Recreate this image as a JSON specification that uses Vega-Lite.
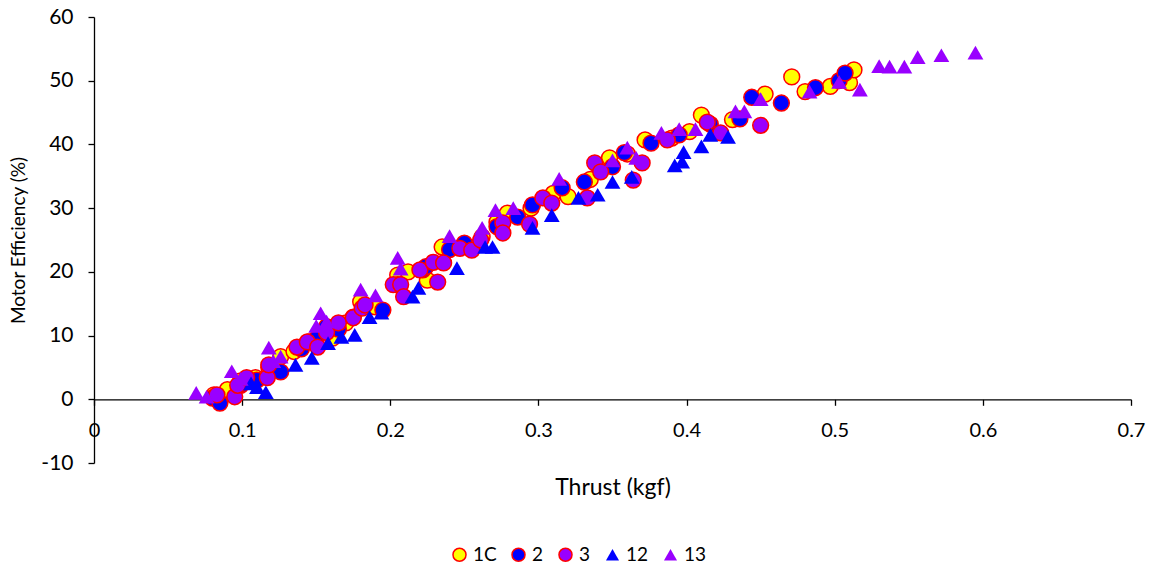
{
  "$schema": "https://vega.github.io/schema/vega-lite/v6.json",
  "autosize": {"type": "none"},
  "padding": {"left": 94, "top": 17, "right": 22, "bottom": 106},
  "width": 1037,
  "height": 446,
  "background": "white",
  "config": {
    "view": {"stroke": null},
    "font": "Lato",
    "axis": {"grid": false, "domainColor": "#000000", "tickColor": "#000000", "labelColor": "#000000", "titleColor": "#000000", "domainWidth": 1.3, "tickWidth": 1.3, "tickSize": 6, "labelFont": "Lato", "titleFont": "Lato", "titleFontWeight": "normal", "labelFlush": false}
  },
  "data": {"values": [
    {"series":"1C","thrust":0.081,"efficiency":0.7},
    {"series":"1C","thrust":0.090,"efficiency":1.5},
    {"series":"1C","thrust":0.099,"efficiency":2.9},
    {"series":"1C","thrust":0.109,"efficiency":3.4},
    {"series":"1C","thrust":0.118,"efficiency":5.0},
    {"series":"1C","thrust":0.126,"efficiency":6.7},
    {"series":"1C","thrust":0.135,"efficiency":7.5},
    {"series":"1C","thrust":0.145,"efficiency":9.0},
    {"series":"1C","thrust":0.161,"efficiency":9.6},
    {"series":"1C","thrust":0.170,"efficiency":12.0},
    {"series":"1C","thrust":0.180,"efficiency":15.3},
    {"series":"1C","thrust":0.190,"efficiency":14.5},
    {"series":"1C","thrust":0.205,"efficiency":19.5},
    {"series":"1C","thrust":0.212,"efficiency":20.0},
    {"series":"1C","thrust":0.225,"efficiency":18.7},
    {"series":"1C","thrust":0.235,"efficiency":23.9},
    {"series":"1C","thrust":0.250,"efficiency":24.0},
    {"series":"1C","thrust":0.262,"efficiency":25.5},
    {"series":"1C","thrust":0.272,"efficiency":27.8},
    {"series":"1C","thrust":0.279,"efficiency":29.2},
    {"series":"1C","thrust":0.295,"efficiency":30.0},
    {"series":"1C","thrust":0.310,"efficiency":32.3},
    {"series":"1C","thrust":0.320,"efficiency":31.8},
    {"series":"1C","thrust":0.335,"efficiency":34.5},
    {"series":"1C","thrust":0.348,"efficiency":37.9},
    {"series":"1C","thrust":0.360,"efficiency":38.5},
    {"series":"1C","thrust":0.372,"efficiency":40.7},
    {"series":"1C","thrust":0.390,"efficiency":41.0},
    {"series":"1C","thrust":0.402,"efficiency":42.0},
    {"series":"1C","thrust":0.410,"efficiency":44.6},
    {"series":"1C","thrust":0.431,"efficiency":43.9},
    {"series":"1C","thrust":0.453,"efficiency":47.9},
    {"series":"1C","thrust":0.471,"efficiency":50.6},
    {"series":"1C","thrust":0.480,"efficiency":48.3},
    {"series":"1C","thrust":0.497,"efficiency":49.1},
    {"series":"1C","thrust":0.510,"efficiency":49.7},
    {"series":"1C","thrust":0.513,"efficiency":51.7},
    {"series":"2","thrust":0.080,"efficiency":0.2},
    {"series":"2","thrust":0.085,"efficiency":-0.6},
    {"series":"2","thrust":0.099,"efficiency":2.2},
    {"series":"2","thrust":0.110,"efficiency":3.0},
    {"series":"2","thrust":0.126,"efficiency":4.3},
    {"series":"2","thrust":0.140,"efficiency":7.9},
    {"series":"2","thrust":0.150,"efficiency":9.5},
    {"series":"2","thrust":0.157,"efficiency":11.4},
    {"series":"2","thrust":0.165,"efficiency":11.0},
    {"series":"2","thrust":0.175,"efficiency":12.9},
    {"series":"2","thrust":0.195,"efficiency":14.0},
    {"series":"2","thrust":0.205,"efficiency":18.0},
    {"series":"2","thrust":0.222,"efficiency":20.3},
    {"series":"2","thrust":0.224,"efficiency":20.8},
    {"series":"2","thrust":0.240,"efficiency":23.5},
    {"series":"2","thrust":0.250,"efficiency":24.5},
    {"series":"2","thrust":0.272,"efficiency":27.1},
    {"series":"2","thrust":0.286,"efficiency":28.6},
    {"series":"2","thrust":0.296,"efficiency":30.5},
    {"series":"2","thrust":0.316,"efficiency":33.2},
    {"series":"2","thrust":0.331,"efficiency":34.1},
    {"series":"2","thrust":0.350,"efficiency":36.5},
    {"series":"2","thrust":0.358,"efficiency":38.7},
    {"series":"2","thrust":0.376,"efficiency":40.2},
    {"series":"2","thrust":0.395,"efficiency":41.5},
    {"series":"2","thrust":0.416,"efficiency":43.2},
    {"series":"2","thrust":0.436,"efficiency":44.0},
    {"series":"2","thrust":0.444,"efficiency":47.4},
    {"series":"2","thrust":0.464,"efficiency":46.5},
    {"series":"2","thrust":0.487,"efficiency":48.9},
    {"series":"2","thrust":0.503,"efficiency":50.0},
    {"series":"2","thrust":0.507,"efficiency":51.2},
    {"series":"3","thrust":0.083,"efficiency":0.7},
    {"series":"3","thrust":0.095,"efficiency":0.4},
    {"series":"3","thrust":0.097,"efficiency":2.2},
    {"series":"3","thrust":0.103,"efficiency":3.4},
    {"series":"3","thrust":0.117,"efficiency":3.4},
    {"series":"3","thrust":0.118,"efficiency":5.4},
    {"series":"3","thrust":0.137,"efficiency":8.2},
    {"series":"3","thrust":0.144,"efficiency":9.0},
    {"series":"3","thrust":0.151,"efficiency":8.2},
    {"series":"3","thrust":0.157,"efficiency":10.5},
    {"series":"3","thrust":0.165,"efficiency":12.0},
    {"series":"3","thrust":0.175,"efficiency":12.8},
    {"series":"3","thrust":0.181,"efficiency":14.3},
    {"series":"3","thrust":0.183,"efficiency":14.8},
    {"series":"3","thrust":0.202,"efficiency":18.0},
    {"series":"3","thrust":0.207,"efficiency":18.0},
    {"series":"3","thrust":0.209,"efficiency":16.1},
    {"series":"3","thrust":0.220,"efficiency":20.3},
    {"series":"3","thrust":0.229,"efficiency":21.5},
    {"series":"3","thrust":0.232,"efficiency":18.4},
    {"series":"3","thrust":0.236,"efficiency":21.4},
    {"series":"3","thrust":0.247,"efficiency":23.7},
    {"series":"3","thrust":0.255,"efficiency":23.4},
    {"series":"3","thrust":0.261,"efficiency":25.0},
    {"series":"3","thrust":0.276,"efficiency":27.7},
    {"series":"3","thrust":0.276,"efficiency":26.1},
    {"series":"3","thrust":0.294,"efficiency":27.5},
    {"series":"3","thrust":0.303,"efficiency":31.6},
    {"series":"3","thrust":0.309,"efficiency":30.8},
    {"series":"3","thrust":0.333,"efficiency":31.6},
    {"series":"3","thrust":0.338,"efficiency":37.1},
    {"series":"3","thrust":0.342,"efficiency":35.7},
    {"series":"3","thrust":0.364,"efficiency":34.4},
    {"series":"3","thrust":0.370,"efficiency":37.1},
    {"series":"3","thrust":0.387,"efficiency":40.7},
    {"series":"3","thrust":0.414,"efficiency":43.5},
    {"series":"3","thrust":0.423,"efficiency":41.8},
    {"series":"3","thrust":0.450,"efficiency":43.0},
    {"series":"12","thrust":0.106,"efficiency":2.5},
    {"series":"12","thrust":0.110,"efficiency":1.9},
    {"series":"12","thrust":0.116,"efficiency":1.1},
    {"series":"12","thrust":0.136,"efficiency":5.4},
    {"series":"12","thrust":0.147,"efficiency":6.5},
    {"series":"12","thrust":0.158,"efficiency":8.8},
    {"series":"12","thrust":0.167,"efficiency":9.8},
    {"series":"12","thrust":0.176,"efficiency":10.1},
    {"series":"12","thrust":0.186,"efficiency":12.9},
    {"series":"12","thrust":0.194,"efficiency":13.6},
    {"series":"12","thrust":0.215,"efficiency":16.1},
    {"series":"12","thrust":0.219,"efficiency":17.5},
    {"series":"12","thrust":0.245,"efficiency":20.6},
    {"series":"12","thrust":0.264,"efficiency":23.9},
    {"series":"12","thrust":0.269,"efficiency":23.9},
    {"series":"12","thrust":0.296,"efficiency":26.9},
    {"series":"12","thrust":0.309,"efficiency":28.9},
    {"series":"12","thrust":0.327,"efficiency":31.6},
    {"series":"12","thrust":0.340,"efficiency":32.1},
    {"series":"12","thrust":0.350,"efficiency":34.1},
    {"series":"12","thrust":0.363,"efficiency":34.9},
    {"series":"12","thrust":0.392,"efficiency":36.7},
    {"series":"12","thrust":0.397,"efficiency":37.3},
    {"series":"12","thrust":0.398,"efficiency":38.8},
    {"series":"12","thrust":0.410,"efficiency":39.7},
    {"series":"12","thrust":0.416,"efficiency":41.5},
    {"series":"12","thrust":0.428,"efficiency":41.2},
    {"series":"13","thrust":0.069,"efficiency":1.0},
    {"series":"13","thrust":0.076,"efficiency":0.4},
    {"series":"13","thrust":0.093,"efficiency":4.4},
    {"series":"13","thrust":0.099,"efficiency":3.2},
    {"series":"13","thrust":0.118,"efficiency":8.1},
    {"series":"13","thrust":0.121,"efficiency":6.0},
    {"series":"13","thrust":0.126,"efficiency":6.7},
    {"series":"13","thrust":0.150,"efficiency":11.5},
    {"series":"13","thrust":0.153,"efficiency":13.5},
    {"series":"13","thrust":0.157,"efficiency":12.2},
    {"series":"13","thrust":0.180,"efficiency":17.2},
    {"series":"13","thrust":0.190,"efficiency":16.3},
    {"series":"13","thrust":0.205,"efficiency":22.2},
    {"series":"13","thrust":0.207,"efficiency":20.5},
    {"series":"13","thrust":0.240,"efficiency":25.6},
    {"series":"13","thrust":0.262,"efficiency":26.9},
    {"series":"13","thrust":0.271,"efficiency":29.7},
    {"series":"13","thrust":0.283,"efficiency":30.0},
    {"series":"13","thrust":0.314,"efficiency":34.6},
    {"series":"13","thrust":0.350,"efficiency":37.5},
    {"series":"13","thrust":0.360,"efficiency":39.5},
    {"series":"13","thrust":0.366,"efficiency":37.9},
    {"series":"13","thrust":0.383,"efficiency":41.8},
    {"series":"13","thrust":0.395,"efficiency":42.4},
    {"series":"13","thrust":0.406,"efficiency":42.4},
    {"series":"13","thrust":0.433,"efficiency":45.2},
    {"series":"13","thrust":0.439,"efficiency":45.2},
    {"series":"13","thrust":0.450,"efficiency":47.1},
    {"series":"13","thrust":0.483,"efficiency":48.3},
    {"series":"13","thrust":0.503,"efficiency":49.8},
    {"series":"13","thrust":0.517,"efficiency":48.6},
    {"series":"13","thrust":0.530,"efficiency":52.3},
    {"series":"13","thrust":0.537,"efficiency":52.2},
    {"series":"13","thrust":0.547,"efficiency":52.2},
    {"series":"13","thrust":0.556,"efficiency":53.7},
    {"series":"13","thrust":0.572,"efficiency":54.0},
    {"series":"13","thrust":0.595,"efficiency":54.4}
  ]},
  "mark": {"type": "point", "filled": true, "opacity": 1, "strokeWidth": 1.5, "size": 250},
  "encoding": {
    "x": {
      "field": "thrust", "type": "quantitative",
      "scale": {"domain": [0, 0.7], "nice": false, "zero": false},
      "axis": {
        "title": "Thrust (kgf)", "values": [0, 0.1, 0.2, 0.3, 0.4, 0.5, 0.6, 0.7], "format": "~g",
        "offset": -63.7, "labelFontSize": 20, "labelPadding": 15, "titleFontSize": 23, "titlePadding": 36
      }
    },
    "y": {
      "field": "efficiency", "type": "quantitative",
      "scale": {"domain": [-10, 60], "nice": false, "zero": false},
      "axis": {
        "title": "Motor Efficiency (%)", "values": [-10, 0, 10, 20, 30, 40, 50, 60],
        "labelExpr": "datum.value < 0 ? '-' + abs(datum.value) : datum.label",
        "labelFontSize": 21, "labelPadding": 15, "titleFontSize": 19, "titlePadding": 12
      }
    },
    "fill": {
      "field": "series", "type": "nominal",
      "scale": {"domain": ["1C", "2", "3", "12", "13"], "range": ["#FFFF00", "#0000FF", "#9900FF", "#0000FF", "#9900FF"]},
      "legend": {"title": null, "orient": "none", "legendX": 356, "legendY": 528, "direction": "horizontal", "labelFontSize": 19, "labelFont": "Lato", "labelColor": "#000000", "symbolSize": 170, "symbolStrokeWidth": 1.5, "columnPadding": 11, "labelOffset": 4}
    },
    "shape": {
      "field": "series", "type": "nominal",
      "scale": {"domain": ["1C", "2", "3", "12", "13"], "range": ["circle", "circle", "circle", "triangle-up", "triangle-up"]},
      "legend": {"title": null, "orient": "none", "legendX": 356, "legendY": 528, "direction": "horizontal", "labelFontSize": 19, "labelFont": "Lato", "labelColor": "#000000", "symbolSize": 170, "symbolStrokeWidth": 1.5, "columnPadding": 11, "labelOffset": 4}
    },
    "stroke": {
      "field": "series", "type": "nominal",
      "scale": {"domain": ["1C", "2", "3", "12", "13"], "range": ["#FF0000", "#FF0000", "#FF0000", "transparent", "transparent"]},
      "legend": {"title": null, "orient": "none", "legendX": 356, "legendY": 528, "direction": "horizontal", "labelFontSize": 19, "labelFont": "Lato", "labelColor": "#000000", "symbolSize": 170, "symbolStrokeWidth": 1.5, "columnPadding": 11, "labelOffset": 4}
    },
    "order": {"value": 0}
  }
}
